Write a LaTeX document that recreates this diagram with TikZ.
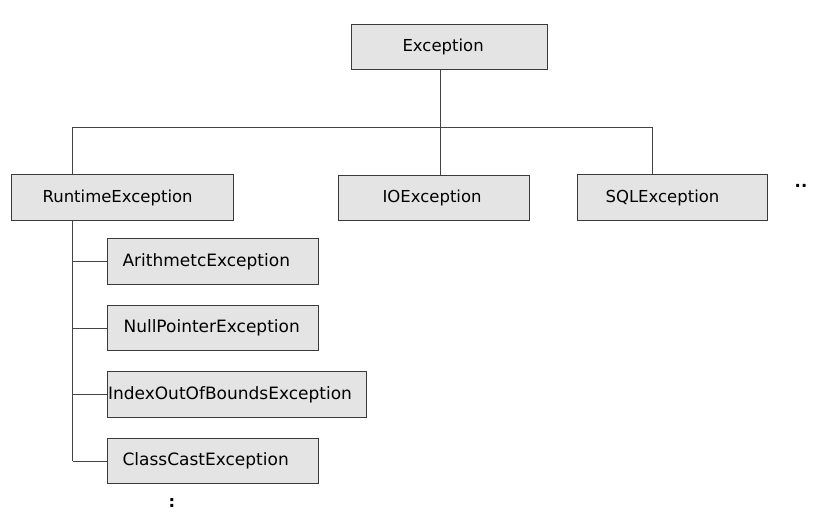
\documentclass[tikz,border=0pt]{standalone}
\usepackage{fontspec}
\setmainfont{DejaVu Sans}
\definecolor{boxfill}{HTML}{E4E4E4}
\definecolor{boxline}{HTML}{3A3A3A}
\definecolor{conn}{HTML}{444444}
\begin{document}
\begin{tikzpicture}[x=1pt,y=-1pt,
  exbox/.style={draw=boxline, fill=boxfill, line width=1.1pt, rectangle,
    anchor=north west, align=left, font=\fontsize{16.5}{19}\selectfont,
    inner ysep=0pt, minimum height=#1},
  exbox/.default=45pt,
  subbox/.style={exbox=#1, font=\fontsize{17}{20}\selectfont},
  subbox/.default=45pt,
  link/.style={draw=conn, line width=1pt},
  dots/.style={font=\bfseries\fontsize{16.5}{19}\selectfont, inner sep=0pt}]
\useasboundingbox (0,0) rectangle (818,522);
% boxes: inner xsep = left padding, text width = width - 2*padding
\node[exbox, inner xsep=51pt, text width=94pt]  (exc)  at (351,24)  {Exception};
\node[exbox=46pt, inner xsep=31pt, text width=160pt] (rt) at (11,174) {RuntimeException};
\node[exbox, inner xsep=44pt, text width=103pt] (io)   at (338,175) {IOException};
\node[exbox=46pt, inner xsep=28pt, text width=134pt] (sql) at (577,174) {SQLException};
\node[subbox=46pt, inner xsep=15pt, text width=181pt] (ar) at (107,238) {ArithmetcException};
\node[subbox, inner xsep=16pt, text width=179pt] (np)   at (107,305) {NullPointerException};
\node[subbox=46pt, inner xsep=0.5pt, text width=258pt] (ioob) at (107,371) {IndexOutOfBoundsException};
\node[subbox, inner xsep=15pt, text width=181pt] (cc)   at (107,438) {ClassCastException};
% bus
\coordinate (j)  at (440,127);
\coordinate (bl) at (72.5,127);
\coordinate (br) at (652,127);
\draw[link] (exc.south -| j) -- (j);
\draw[link] (bl) -- (br);
\draw[link] (bl) -- (bl |- rt.north);
\draw[link] (j) -- (j |- io.north);
\draw[link] (br) -- (br |- sql.north);
% left spine
\draw[link] (rt.south -| bl) -- (bl |- cc.west);
\draw[link] (bl |- ar.west) -- (ar.west);
\draw[link] (bl |- np.west) -- (np.west);
\draw[link] (bl |- ioob.west) -- (ioob.west);
\draw[link] (bl |- cc.west) -- (cc.west);
% continuation marks
\node[dots] (more1) at (801,186) {..};
\node[dots] (more2) at (172,503) {:};
\end{tikzpicture}
\end{document}
